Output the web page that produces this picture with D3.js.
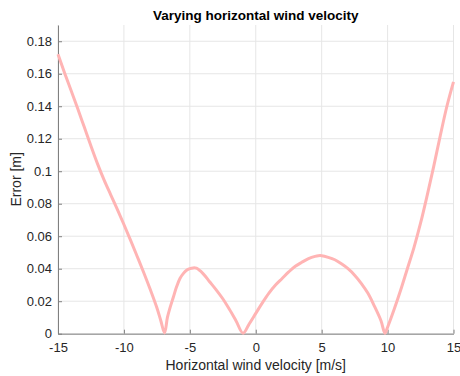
<!DOCTYPE html>
<html>
<head>
<meta charset="utf-8">
<script src="https://cdn.jsdelivr.net/npm/d3@7"></script>
<style>
	body { margin: 0; background: #fff; }
	svg text { font-family: "Liberation Sans", Arial, sans-serif; }
</style>
</head>
<body>
<svg id="chart" width="460" height="376"></svg>
<script>
// horizontal wind velocity [m/s]
var velocity = [-15, -14.5, -14, -13.5, -13, -12.5, -12, -11.5, -11, -10.5, -10, -9.5, -9, -8.5, -8, -7.5, -7.2, -6.92,
	-6.7, -6.5, -6.27, -6, -5.75, -5.5, -5.25, -5, -4.75, -4.5, -4, -3.5, -3, -2.5, -2, -1.5, -0.96,
	-0.5, 0, 0.5, 1, 1.5, 2, 2.5, 3, 3.5, 4, 4.5, 4.75, 5, 5.5, 6, 6.5, 7, 7.5, 8, 8.5, 9, 9.5, 9.8,
	10, 10.5, 11, 11.5, 12, 12.5, 13, 13.5, 14, 14.5, 15];
// error [m]
var error = [0.172, 0.1605, 0.1495, 0.1385, 0.127, 0.1155, 0.1045, 0.0945, 0.0855, 0.0765, 0.0672, 0.0576, 0.0477, 0.0377, 0.0272, 0.016, 0.008, 0.0005,
	0.010, 0.016, 0.022, 0.029, 0.034, 0.037, 0.039, 0.040, 0.0405, 0.0403, 0.037, 0.032, 0.027, 0.0215, 0.015, 0.008, 0.0003,
	0.006, 0.0125, 0.019, 0.025, 0.030, 0.034, 0.038, 0.0415, 0.044, 0.0462, 0.0476, 0.048, 0.048, 0.047, 0.0455, 0.043, 0.040, 0.036, 0.031, 0.025, 0.017, 0.008, 0.0003,
	0.004, 0.015, 0.027, 0.040, 0.053, 0.068, 0.085, 0.103, 0.122, 0.140, 0.155];

var xTicks = [-15, -10, -5, 0, 5, 10, 15];
var yTicks = [0, 0.02, 0.04, 0.06, 0.08, 0.1, 0.12, 0.14, 0.16, 0.18];

var svg = d3.select("#chart");
// plot box (window.top is reserved, so use other names)
var plotLeft = 58, plotRight = 453.5, plotTop = 25, plotBottom = 333.7;

var x = d3.scaleLinear().domain([-15, 15]).range([plotLeft, plotRight]);
var y = d3.scaleLinear().domain([0, 0.19]).range([plotBottom, plotTop]);

// grid
svg.append("g").selectAll("line").data(xTicks).enter().append("line")
	.attr("x1", function(d) { return x(d); })
	.attr("x2", function(d) { return x(d); })
	.attr("y1", plotTop).attr("y2", plotBottom)
	.attr("stroke", "#e6e6e6").attr("stroke-width", 1);
svg.append("g").selectAll("line").data(yTicks).enter().append("line")
	.attr("y1", function(d) { return y(d); })
	.attr("y2", function(d) { return y(d); })
	.attr("x1", plotLeft).attr("x2", plotRight)
	.attr("stroke", "#e6e6e6").attr("stroke-width", 1);

// axes, ticks pointing inward like matlab
var xAxis = svg.append("g")
	.attr("transform", "translate(0," + plotBottom + ")")
	.call(d3.axisBottom(x).tickValues(xTicks).tickSizeInner(-4).tickSizeOuter(0).tickPadding(9)
		.tickFormat(function(d) { return d < 0 ? "-" + Math.abs(d) : d; }));
var yAxis = svg.append("g")
	.attr("transform", "translate(" + plotLeft + ",0)")
	.call(d3.axisLeft(y).tickValues(yTicks).tickSizeInner(-4).tickSizeOuter(0).tickPadding(6)
		.tickFormat(function(d) { return d3.format("")(+d.toFixed(2)); }));

[xAxis, yAxis].forEach(function(axis) {
	axis.select(".domain").attr("stroke", "#808080");
	axis.selectAll(".tick line").attr("stroke", "#808080");
	axis.selectAll(".tick text").attr("fill", "#262626").attr("font-size", "13px")
		.style("font-family", "'Liberation Sans', Arial, sans-serif");
});

// the curve
var line = d3.line()
	.curve(d3.curveCatmullRom.alpha(0.5))
	.x(function(d) { return x(d[0]); })
	.y(function(d) { return y(d[1]); });
svg.append("path")
	.datum(d3.zip(velocity, error))
	.attr("d", line)
	.attr("fill", "none")
	.attr("stroke", "#ffb4b4")
	.attr("stroke-width", 3)
	.attr("stroke-linejoin", "round");

// labels
svg.append("text")
	.attr("x", (plotLeft + plotRight) / 2).attr("y", 20)
	.attr("text-anchor", "middle")
	.attr("font-size", "13.5px").attr("font-weight", "bold").attr("fill", "#000")
	.text("Varying horizontal wind velocity");
svg.append("text")
	.attr("x", (plotLeft + plotRight) / 2).attr("y", 370)
	.attr("text-anchor", "middle")
	.attr("font-size", "14px").attr("fill", "#262626")
	.text("Horizontal wind velocity [m/s]");
svg.append("text")
	.attr("transform", "translate(21," + (plotTop + plotBottom) / 2 + ") rotate(-90)")
	.attr("text-anchor", "middle")
	.attr("font-size", "14px").attr("fill", "#262626")
	.text("Error [m]");
</script>
</body>
</html>
